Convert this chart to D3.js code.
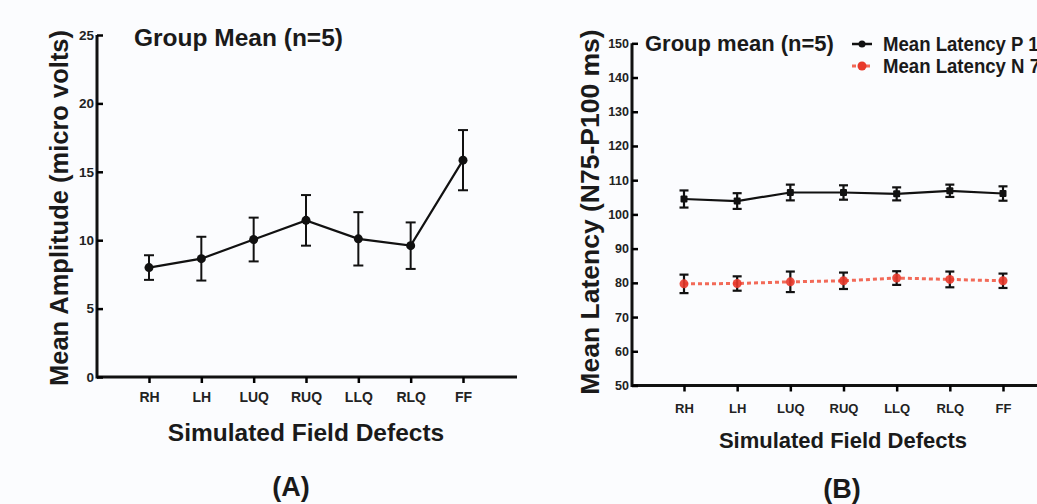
<!DOCTYPE html>
<html>
<head>
<meta charset="utf-8">
<script src="https://cdn.jsdelivr.net/npm/d3@7"></script>
<style>
  body { margin: 0; background: #fbfcfe; }
  svg { display: block; font-family: "Liberation Sans", Arial, sans-serif; font-weight: bold; }
</style>
</head>
<body>
<div id="viz"></div>
<script>
//Datos
const categorias = ['RH', 'LH', 'LUQ', 'RUQ', 'LLQ', 'RLQ', 'FF'];

// (A) amplitud media
const amplitud = [8.0, 8.65, 10.05, 11.45, 10.1, 9.6, 15.85];
const amplitudErr = [0.9, 1.6, 1.6, 1.85, 1.95, 1.7, 2.2];
const ticksA = [0, 5, 10, 15, 20, 25];

// (B) latencias medias
const latenciaP100 = [104.5, 103.9, 106.4, 106.4, 106.0, 106.9, 106.1];
const latenciaP100Err = [2.5, 2.3, 2.3, 2.1, 1.9, 1.8, 2.1];
const latenciaN75 = [79.7, 79.8, 80.3, 80.6, 81.4, 81.0, 80.6];
const latenciaN75Err = [2.7, 2.1, 3.0, 2.4, 2.0, 2.3, 2.1];
const ticksB = [50, 60, 70, 80, 90, 100, 110, 120, 130, 140, 150];
const leyendaB = ['Mean Latency P 100', 'Mean Latency N 75'];

const COLOR_BLACK = '#111111',
    COLOR_RED = '#e8392b',
    COLOR_RED_LINE = '#f26a58';

let svg = d3.select('#viz')
    .append('svg')
    .attr('width', 1037)
    .attr('height', 504);

function toSeries(values, errs) {
    return categorias.map(function(c, i) { return {cat: c, value: values[i], err: errs[i]}; });
}

function styleTicks(sel, size) {
    sel.selectAll('text')
        .style('font-size', size + 'px')
        .style('font-family', '"Liberation Sans", Arial')
        .style('font-weight', 'bold')
        .attr('fill', '#222');
    sel.selectAll('line').attr('stroke-width', 2.5);
    sel.select('.domain').remove();
}

//Panel A
(function() {
    let x = d3.scalePoint().domain(categorias).range([149, 463]);
    let y = d3.scaleLinear().domain([0, 25]).range([377, 35]);
    let g = svg.append('g');

    // ejes
    g.append('line').attr('x1', 97).attr('x2', 97).attr('y1', y(25)).attr('y2', y(0) + 1.5)
        .attr('stroke', COLOR_BLACK).attr('stroke-width', 3);
    g.append('line').attr('x1', 97).attr('x2', 517).attr('y1', y(0)).attr('y2', y(0))
        .attr('stroke', COLOR_BLACK).attr('stroke-width', 3);

    g.append('g').attr('transform', 'translate(97,0)')
        .call(d3.axisLeft(y).tickValues(ticksA).tickSizeInner(-6).tickSizeOuter(0).tickPadding(3))
        .call(styleTicks, 13.5);

    g.append('g').attr('transform', 'translate(0,' + y(0) + ')')
        .call(d3.axisBottom(x).tickSize(6).tickPadding(9))
        .call(styleTicks, 14);

    let data = toSeries(amplitud, amplitudErr);

    // barras de error
    let eb = g.append('g').selectAll('g').data(data).enter().append('g');
    eb.append('line').attr('x1', function(d) { return x(d.cat); }).attr('x2', function(d) { return x(d.cat); })
        .attr('y1', function(d) { return y(d.value + d.err); }).attr('y2', function(d) { return y(d.value - d.err); })
        .attr('stroke', COLOR_BLACK).attr('stroke-width', 2);
    [1, -1].forEach(function(k) {
        eb.append('line').attr('x1', function(d) { return x(d.cat) - 5; }).attr('x2', function(d) { return x(d.cat) + 5; })
            .attr('y1', function(d) { return y(d.value + k * d.err); }).attr('y2', function(d) { return y(d.value + k * d.err); })
            .attr('stroke', COLOR_BLACK).attr('stroke-width', 2);
    });

    let line = d3.line().x(function(d) { return x(d.cat); }).y(function(d) { return y(d.value); });
    g.append('path').datum(data).attr('d', line).attr('fill', 'none')
        .attr('stroke', COLOR_BLACK).attr('stroke-width', 2.2);

    g.append('g').selectAll('circle').data(data).enter().append('circle')
        .attr('cx', function(d) { return x(d.cat); }).attr('cy', function(d) { return y(d.value); })
        .attr('r', 4.5).attr('fill', COLOR_BLACK);

    // textos
    g.append('text').attr('x', 134).attr('y', 46).style('font-size', '24.5px').attr('fill', '#1a1a1a')
        .text('Group Mean (n=5)');
    g.append('text').attr('transform', 'translate(68,208) rotate(-90)').attr('text-anchor', 'middle')
        .style('font-size', '25.5px').attr('fill', '#1a1a1a').text('Mean Amplitude (micro volts)');
    g.append('text').attr('x', 306).attr('y', 441).attr('text-anchor', 'middle')
        .style('font-size', '24.5px').attr('fill', '#1a1a1a').text('Simulated Field Defects');
    g.append('text').attr('x', 291).attr('y', 496).attr('text-anchor', 'middle')
        .style('font-size', '27px').attr('fill', '#1a1a1a').text('(A)');
})();

//Panel B
(function() {
    let x = d3.scalePoint().domain(categorias).range([684, 1003]);
    let y = d3.scaleLinear().domain([50, 150]).range([385.5, 43.3]);
    let g = svg.append('g');

    g.append('line').attr('x1', 632).attr('x2', 632).attr('y1', y(150)).attr('y2', y(50) + 1.5)
        .attr('stroke', COLOR_BLACK).attr('stroke-width', 3);
    g.append('line').attr('x1', 632).attr('x2', 1040).attr('y1', y(50)).attr('y2', y(50))
        .attr('stroke', COLOR_BLACK).attr('stroke-width', 3);

    g.append('g').attr('transform', 'translate(632,0)')
        .call(d3.axisLeft(y).tickValues(ticksB).tickSizeInner(-6).tickSizeOuter(0).tickPadding(3))
        .call(styleTicks, 12.5);

    g.append('g').attr('transform', 'translate(0,' + y(50) + ')')
        .call(d3.axisBottom(x).tickSize(6).tickPadding(12))
        .call(styleTicks, 13);

    let line = d3.line().x(function(d) { return x(d.cat); }).y(function(d) { return y(d.value); });

    let series = [
        {data: toSeries(latenciaN75, latenciaN75Err), stroke: COLOR_RED_LINE, dash: '4,3', marker: COLOR_RED, width: 3},
        {data: toSeries(latenciaP100, latenciaP100Err), stroke: COLOR_BLACK, dash: null, marker: COLOR_BLACK, width: 2.2}
    ];

    series.forEach(function(s) {
        g.append('path').datum(s.data).attr('d', line).attr('fill', 'none')
            .attr('stroke', s.stroke).attr('stroke-width', s.width)
            .attr('stroke-dasharray', s.dash);

        let eb = g.append('g').selectAll('g').data(s.data).enter().append('g');
        eb.append('line').attr('x1', function(d) { return x(d.cat); }).attr('x2', function(d) { return x(d.cat); })
            .attr('y1', function(d) { return y(d.value + d.err); }).attr('y2', function(d) { return y(d.value - d.err); })
            .attr('stroke', COLOR_BLACK).attr('stroke-width', 2.2);
        [1, -1].forEach(function(k) {
            eb.append('line').attr('x1', function(d) { return x(d.cat) - 4.5; }).attr('x2', function(d) { return x(d.cat) + 4.5; })
                .attr('y1', function(d) { return y(d.value + k * d.err); }).attr('y2', function(d) { return y(d.value + k * d.err); })
                .attr('stroke', COLOR_BLACK).attr('stroke-width', 2.2);
        });

        if (s.marker == COLOR_RED) {
            g.append('g').selectAll('circle').data(s.data).enter().append('circle')
                .attr('cx', function(d) { return x(d.cat); }).attr('cy', function(d) { return y(d.value); })
                .attr('r', 4.5).attr('fill', s.marker).attr('fill-opacity', 0.9);
        } else {
            g.append('g').selectAll('rect').data(s.data).enter().append('rect')
                .attr('x', function(d) { return x(d.cat) - 3.5; }).attr('y', function(d) { return y(d.value) - 3.5; })
                .attr('width', 7).attr('height', 7).attr('rx', 1)
                .attr('fill', s.marker);
        }
    });

    // leyenda
    let leg = g.append('g').selectAll('g').data(leyendaB).enter().append('g')
        .attr('transform', function(d, i) { return 'translate(852,' + (44 + i * 22) + ')'; });
    leg.append('line').attr('x1', 0).attr('x2', 20)
        .attr('stroke', function(d, i) { return i == 0 ? COLOR_BLACK : COLOR_RED_LINE; })
        .attr('stroke-width', function(d, i) { return i == 0 ? 2.5 : 3; })
        .attr('stroke-dasharray', function(d, i) { return i == 0 ? null : '4,3'; });
    leg.append('circle').attr('cx', 10).attr('r', function(d, i) { return i == 0 ? 3.5 : 4.5; })
        .attr('fill', function(d, i) { return i == 0 ? COLOR_BLACK : COLOR_RED; });
    leg.append('text').attr('transform', 'translate(31,7) scale(0.93,1)').style('font-size', '20px').attr('fill', '#1a1a1a')
        .text(function(d) { return d; });

    g.append('text').attr('x', 645).attr('y', 51).style('font-size', '22px').attr('fill', '#1a1a1a')
        .text('Group mean (n=5)');
    g.append('text').attr('transform', 'translate(599,212) rotate(-90)').attr('text-anchor', 'middle')
        .style('font-size', '26.5px').attr('fill', '#1a1a1a').text('Mean Latency (N75-P100 ms)');
    g.append('text').attr('x', 843).attr('y', 448).attr('text-anchor', 'middle')
        .style('font-size', '22px').attr('fill', '#1a1a1a').text('Simulated Field Defects');
    g.append('text').attr('x', 842).attr('y', 498).attr('text-anchor', 'middle')
        .style('font-size', '27px').attr('fill', '#1a1a1a').text('(B)');
})();
</script>
</body>
</html>
